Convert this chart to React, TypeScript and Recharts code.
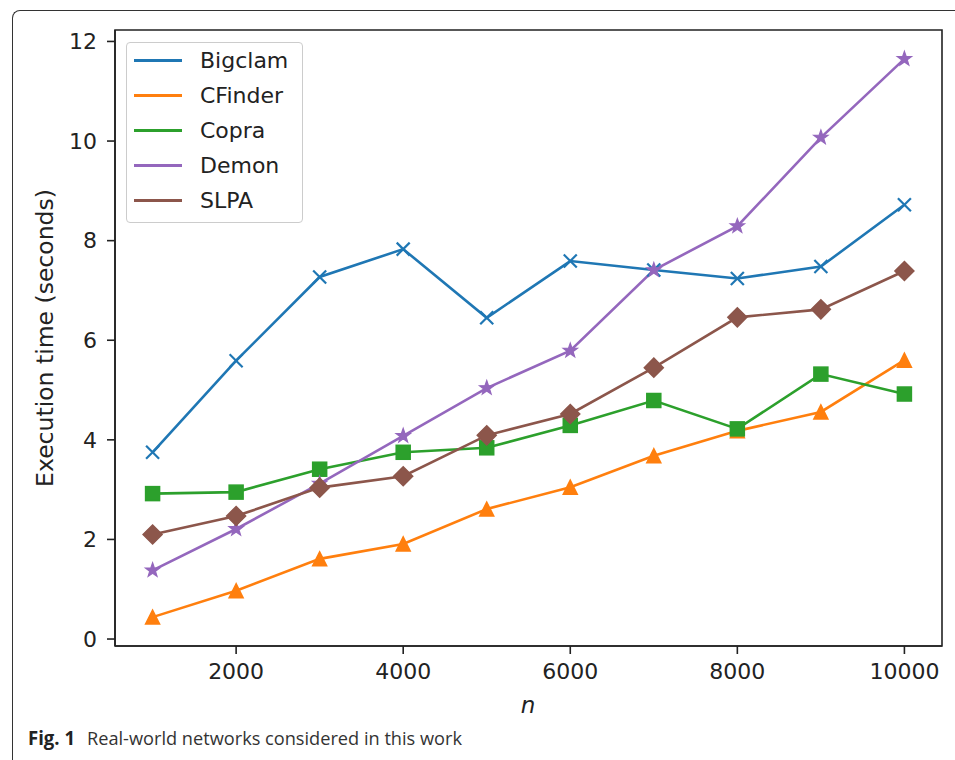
import React from "react";
import { LineChart, Line, XAxis, YAxis, ReferenceArea, Legend } from "recharts";

// ── Data ──────────────────────────────────────────────────────────────────────
const NS = [1000, 2000, 3000, 4000, 5000, 6000, 7000, 8000, 9000, 10000];
const BIGCLAM = [3.75, 5.59, 7.27, 7.83, 6.45, 7.59, 7.41, 7.24, 7.48, 8.72];
const CFINDER = [0.44, 0.97, 1.61, 1.91, 2.61, 3.05, 3.68, 4.18, 4.56, 5.6];
const COPRA = [2.92, 2.95, 3.41, 3.75, 3.84, 4.29, 4.79, 4.22, 5.32, 4.92];
const DEMON = [1.38, 2.21, 3.12, 4.08, 5.04, 5.79, 7.41, 8.29, 10.07, 11.65];
const SLPA = [2.1, 2.47, 3.04, 3.27, 4.09, 4.52, 5.45, 6.46, 6.62, 7.39];

const X_TICKS = [2000, 4000, 6000, 8000, 10000];
const Y_TICKS = [0, 2, 4, 6, 8, 10, 12];

type Shape = "x" | "tri" | "square" | "star" | "diamond";
const SERIES: { name: string; values: number[]; color: string; shape: Shape }[] = [
  { name: "Bigclam", values: BIGCLAM, color: "#1f77b4", shape: "x" },
  { name: "CFinder", values: CFINDER, color: "#ff7f0e", shape: "tri" },
  { name: "Copra", values: COPRA, color: "#2ca02c", shape: "square" },
  { name: "Demon", values: DEMON, color: "#9467bd", shape: "star" },
  { name: "SLPA", values: SLPA, color: "#8c564b", shape: "diamond" },
];

const data = NS.map((n, i) => {
  const row: Record<string, number> = { n };
  SERIES.forEach((s) => (row[s.name] = s.values[i]));
  return row;
});

const FONT = "'DejaVu Sans', sans-serif";
const INK = "#222";
const LINE_W = 2.6;

// ── Markers ───────────────────────────────────────────────────────────────────
function starPoints(cx: number, cy: number, r: number, ri: number) {
  const pts: string[] = [];
  for (let k = 0; k < 10; k++) {
    const a = -Math.PI / 2 + (k * Math.PI) / 5;
    const rr = k % 2 === 0 ? r : ri;
    pts.push(`${cx + rr * Math.cos(a)},${cy + rr * Math.sin(a)}`);
  }
  return pts.join(" ");
}

const makeDot = (shape: Shape, color: string) => (props: any) => {
  const { cx, cy, index } = props;
  const key = `${shape}-${index}`;
  if (cx == null || cy == null) return <g key={key} />;
  switch (shape) {
    case "x":
      return (
        <g key={key} stroke={color} strokeWidth={2.2}>
          <line x1={cx - 6.5} y1={cy - 6.5} x2={cx + 6.5} y2={cy + 6.5} />
          <line x1={cx - 6.5} y1={cy + 6.5} x2={cx + 6.5} y2={cy - 6.5} />
        </g>
      );
    case "tri":
      return (
        <polygon key={key} points={`${cx},${cy - 7} ${cx - 7},${cy + 7} ${cx + 7},${cy + 7}`}
          fill={color} stroke={color} strokeWidth={1.5} strokeLinejoin="miter" />
      );
    case "square":
      return <rect key={key} x={cx - 7} y={cy - 7} width={14} height={14} fill={color} stroke={color} strokeWidth={1.5} />;
    case "star":
      return <polygon key={key} points={starPoints(cx, cy, 7.5, 3)} fill={color} stroke={color} strokeWidth={1.2} />;
    case "diamond":
      return (
        <polygon key={key} points={`${cx},${cy - 9.5} ${cx + 9.5},${cy} ${cx},${cy + 9.5} ${cx - 9.5},${cy}`}
          fill={color} stroke={color} strokeWidth={1.5} />
      );
  }
};

// ── Legend ────────────────────────────────────────────────────────────────────
function LegendBox({ payload }: { payload?: Array<{ value: string; color: string }> }) {
  return (
    <div style={{ background: "rgba(255,255,255,0.8)", border: "1px solid #ccc", borderRadius: 4, padding: "0 0 4px", width: 177, boxSizing: "border-box" }}>
      {(payload ?? []).map((p) => (
        <div key={p.value} style={{ display: "flex", alignItems: "center", height: 35 }}>
          <div style={{ marginLeft: 7, width: 48, height: LINE_W, background: p.color }} />
          <span style={{ marginLeft: 18, fontFamily: FONT, fontSize: 22, color: INK, lineHeight: "35px" }}>{p.value}</span>
        </div>
      ))}
    </div>
  );
}

// ── Chart ─────────────────────────────────────────────────────────────────────
export default function App() {
  const tick = { fontSize: 22, fill: INK, fontFamily: FONT };
  return (
    <div style={{ position: "absolute", left: 0, top: 0, width: 955, height: 760, background: "#fff", overflow: "hidden" }}>
      <div style={{ position: "absolute", left: 12, top: 10, width: 960, height: 770, borderLeft: "1.5px solid #333", borderTop: "1.5px solid #333", borderTopLeftRadius: 8 }} />
      <LineChart width={955} height={760} data={data} margin={{ top: 30, right: 13, left: 55, bottom: 64 }}
        style={{ position: "absolute", left: 0, top: 0 }}>
        <XAxis type="number" dataKey="n" domain={[550, 10450]} allowDataOverflow ticks={X_TICKS}
          tick={tick} tickSize={8} tickMargin={9} height={50} stroke={INK} strokeWidth={1.6} />
        <YAxis type="number" domain={[-0.14, 12.23]} allowDataOverflow ticks={Y_TICKS}
          tick={tick} tickSize={8} tickMargin={10} width={60} stroke={INK} strokeWidth={1.6} />
        <ReferenceArea x1={550} x2={10450} y1={-0.14} y2={12.23} fill="none" stroke={INK} strokeWidth={1.6} ifOverflow="visible" />
        {SERIES.map((s) => (
          <Line key={s.name} dataKey={s.name} name={s.name} stroke={s.color} strokeWidth={LINE_W}
            dot={makeDot(s.shape, s.color)} activeDot={false} isAnimationActive={false} type="linear" />
        ))}
        <Legend layout="vertical" align="center" verticalAlign="middle" content={<LegendBox />}
          wrapperStyle={{ left: 126, top: 42, width: 177 }} />
      </LineChart>
      <svg width={955} height={760} style={{ position: "absolute", left: 0, top: 0, pointerEvents: "none" }}>
        <text x={45} y={338} transform="rotate(-90 45 338)" textAnchor="middle" dominantBaseline="central"
          fontFamily={FONT} fontSize={23.5} fill={INK}>Execution time (seconds)</text>
        <text x={528} y={705} textAnchor="middle" dominantBaseline="central" fontFamily={FONT} fontStyle="italic"
          fontSize={23} fill={INK}>n</text>
        <text x={28} y={745} fontFamily="'Open Sans', sans-serif" fontWeight={700} fontSize={19} fill="#222"
          textLength={47} lengthAdjust="spacingAndGlyphs">Fig. 1</text>
        <text x={87} y={745} fontFamily="'Open Sans', sans-serif" fontSize={19} fill="#333"
          textLength={375} lengthAdjust="spacingAndGlyphs">Real-world networks considered in this work</text>
      </svg>
    </div>
  );
}
